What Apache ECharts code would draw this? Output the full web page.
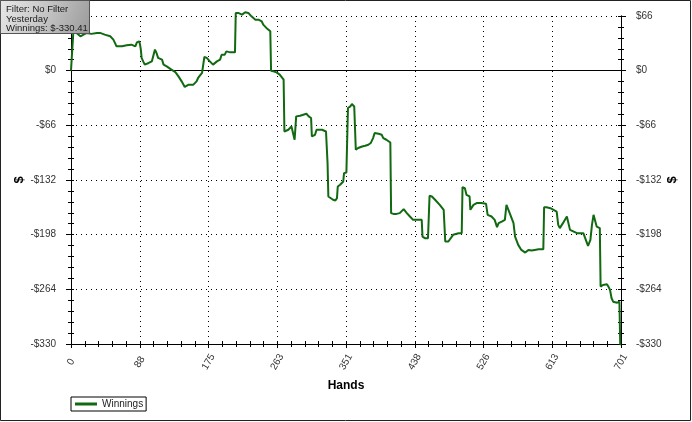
<!DOCTYPE html>
<html><head><meta charset="utf-8">
<script src="https://cdn.jsdelivr.net/npm/echarts@6/dist/echarts.min.js"></script>
<style>html,body{margin:0;padding:0;background:#fff}#c{width:692px;height:422px}</style>
</head><body><div id="c"></div>
<script>
const hands = [0,1,3,7,12,14,20,26,33,37,43,50,54,56,58,65,71,77,82,84,87,88,89,90,92,94,99,103,105,107,109,111,116,118,122,128,133,137,141,145,150,156,160,162,167,169,170,173,177,181,186,190,192,196,198,203,209,210,213,218,222,226,230,235,239,243,245,249,254,255,258,262,266,271,272,277,281,283,285,287,292,296,300,303,306,307,311,313,315,320,325,327,328,330,334,337,339,340,343,345,347,348,351,353,356,358,361,362,363,366,371,375,379,382,385,387,392,396,398,402,407,408,411,415,419,424,428,432,436,443,447,448,451,455,457,460,464,470,475,477,481,483,487,494,498,499,502,504,508,509,513,517,523,529,531,536,540,543,545,549,553,555,557,560,564,566,570,574,579,583,587,591,596,602,603,606,611,615,619,621,623,625,627,632,634,636,638,645,653,655,657,659,662,664,666,668,670,674,675,678,683,685,687,689,691,696,699,700,701];
const winnings = [0,0,47.5,45.6,41.5,43.5,45.6,44.4,45.6,45.6,43.5,41.5,37.5,33.5,29.4,29.4,30.6,31.4,29.4,34.2,35.4,31.4,25.4,15.4,11.2,7.3,9.3,11.2,11.2,25.4,21.4,15.4,13.3,7.3,5.2,1.2,-1.8,-6.9,-12.9,-19.7,-16.9,-16.9,-12.9,-8.8,-2.8,-2.1,16.6,15.4,11.2,7.3,11.2,13.3,19.3,19.3,23.3,22.1,22.1,69.7,69.7,67.7,70.5,69.7,65.6,61.6,61.6,59.6,55.6,51.6,47.5,0,-0.8,-2.1,-4.8,-10.9,-73.4,-71.3,-67.3,-65.3,-83.4,-55.2,-54.4,-53.2,-52.0,-55.2,-57.2,-79.4,-77.4,-71.3,-69.3,-71.3,-73.4,-111.6,-151.9,-153.9,-155.9,-156.8,-153.9,-139.9,-137.8,-137.8,-133.8,-123.7,-122.9,-45.1,-43.2,-40.3,-43.2,-45.1,-95.5,-93.4,-91.5,-90.7,-89.5,-87.4,-81.4,-75.3,-76.2,-77.4,-81.4,-83.4,-86.7,-172.0,-172.9,-172.9,-172.0,-167.2,-172.0,-176.1,-180.1,-180.1,-180.1,-200.3,-202.2,-202.2,-151.1,-151.9,-155.9,-162.0,-168.0,-206.3,-206.3,-204.3,-198.2,-196.2,-196.2,-140.6,-141.8,-149.9,-151.9,-168.0,-162.0,-159.9,-159.9,-160.8,-174.1,-176.1,-180.1,-188.9,-184.1,-182.2,-180.1,-162.0,-162.0,-174.1,-184.1,-200.3,-210.3,-216.4,-219.6,-216.4,-217.2,-216.4,-215.5,-215.5,-164.8,-164.8,-166.0,-168.0,-170.1,-186.2,-190.1,-190.1,-184.1,-176.1,-176.8,-192.2,-194.3,-196.2,-196.2,-198.2,-206.3,-211.5,-204.3,-186.2,-174.1,-176.1,-188.2,-190.1,-260.7,-258.7,-257.8,-260.7,-264.7,-274.8,-278.9,-280.1,-278.9,-330.41,-330.41];
const xTickLabels = ['0','88','175','263','351','438','526','613','701'];
const yTickLabels = ['-$330','-$264','-$198','-$132','-$66','$0','$66'];
const infoLines = ['Filter: No Filter','Yesterday','Winnings: $-330.41'];
const seriesName = 'Winnings';
const xAxisTitle = 'Hands';
const yAxisTitle = '$';

const X_MIN = 0, X_MAX = 701, X_STEP = 87.625;
const Y_MIN = -330, Y_MAX = 66, Y_STEP = 66;
const FONT = 'Liberation Sans, Arial, sans-serif';
const GREEN = '#116a11';

const data = hands.map((h, i) => [h, winnings[i]]);

function yAx(pos, main, inside) {
  return {
    type: 'value', position: pos, min: Y_MIN, max: Y_MAX, interval: Y_STEP,
    name: main ? yAxisTitle : '', nameLocation: 'middle', nameGap: pos === 'left' ? 45 : 45,
    nameRotate: 90, nameMoveOverlap: false,
    nameTextStyle: {fontFamily: FONT, fontSize: 13, fontWeight: 'bold', color: '#000'},
    axisLine: {show: true, lineStyle: {color: '#000', width: 1}},
    axisTick: {show: true, inside: inside, length: inside ? 3 : 5, lineStyle: {color: '#000'}},
    minorTick: {show: true, splitNumber: 5, length: 3, lineStyle: {color: '#000'}},
    axisLabel: {show: main, margin: 15, fontFamily: FONT, fontSize: 10, color: '#333',
      formatter: v => yTickLabels[Math.round((v - Y_MIN) / Y_STEP)]},
    splitLine: {show: main && pos === 'left', lineStyle: {color: '#000', type: [1, 4], width: 1}},
    minorSplitLine: {show: false}
  };
}
function xAx(main, inside) {
  return {
    type: 'value', position: 'bottom', min: X_MIN, max: X_MAX, interval: X_STEP,
    name: main ? xAxisTitle : '', nameLocation: 'middle', nameGap: 36, nameMoveOverlap: false,
    nameTextStyle: {fontFamily: FONT, fontSize: 12, fontWeight: 'bold', color: '#000'},
    axisLine: {show: true, onZero: false, lineStyle: {color: '#000', width: 1}},
    axisTick: {show: true, inside: inside, length: inside ? 3 : 4, lineStyle: {color: '#000'}},
    minorTick: {show: true, splitNumber: 5, length: 3, lineStyle: {color: '#000'}},
    axisLabel: {show: main, rotate: 60, margin: 18, align: 'center', verticalAlign: 'middle',
      fontFamily: FONT, fontSize: 10, color: '#333',
      formatter: v => xTickLabels[Math.round(v / X_STEP)]},
    splitLine: {show: main, lineStyle: {color: '#000', type: [1, 4], width: 1}},
    minorSplitLine: {show: false}
  };
}

const infoText = (i, y) => ({type: 'text', z: 201, silent: true, x: 6, y: y,
  style: {text: infoLines[i], font: '9.5px ' + FONT, fill: '#1a1a1a', verticalAlign: 'middle'}});

const chart = echarts.init(document.getElementById('c'), null, {renderer: 'canvas'});
chart.setOption({
  animation: false,
  backgroundColor: '#fff',
  grid: {left: 71, right: 71, top: 16, bottom: 78, containLabel: false, outerBoundsMode: 'none'},
  xAxis: [xAx(true, false), xAx(false, true)],
  yAxis: [yAx('left', true, false), yAx('left', false, true), yAx('right', true, false), yAx('right', false, true)],
  legend: {
    show: true, left: 71, top: 397, orient: 'horizontal',
    padding: [2, 3, 2, 4], itemWidth: 22, itemHeight: 3, icon: 'rect',
    borderColor: '#000', borderWidth: 1, borderRadius: 0, backgroundColor: '#fff',
    textStyle: {fontFamily: FONT, fontSize: 10, color: '#222'},
    data: [seriesName]
  },
  series: [{
    name: seriesName, type: 'line', data: data, xAxisIndex: 0, yAxisIndex: 0,
    showSymbol: false, symbol: 'none', clip: false,
    lineStyle: {color: GREEN, width: 2}, itemStyle: {color: GREEN},
    z: 3,
    markLine: {
      silent: true, symbol: 'none', label: {show: false},
      lineStyle: {color: '#000', type: 'solid', width: 1},
      data: [{yAxis: 0}], z: 2
    }
  }],
  graphic: [
    {type: 'rect', z: 200, silent: true, shape: {x: 0.5, y: 0.5, width: 690, height: 420},
     style: {fill: 'none', stroke: '#222', lineWidth: 1}},
    {type: 'rect', z: 200, silent: true, shape: {x: 0.5, y: 0.5, width: 89, height: 33},
     style: {stroke: '#555', lineWidth: 1,
       fill: new echarts.graphic.LinearGradient(0, 0, 1, 1, [
         {offset: 0, color: '#e8e8e8'}, {offset: 0.5, color: '#c4c4c4'}, {offset: 1, color: '#9a9a9a'}])}},
    infoText(0, 9), infoText(1, 19), infoText(2, 28.5)
  ]
});
</script></body></html>
